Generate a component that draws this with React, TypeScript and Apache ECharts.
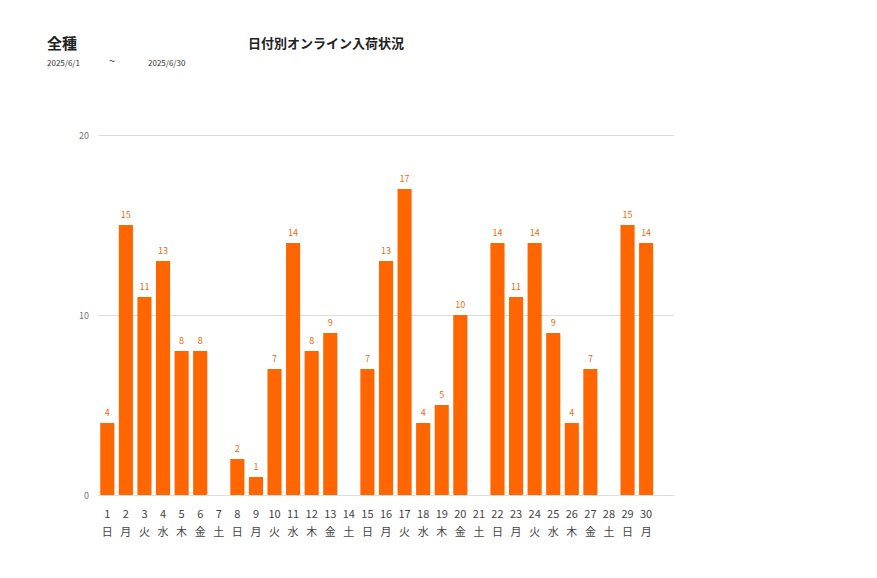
import React, { useEffect, useRef } from 'react';
import * as echarts from 'echarts';

// the axis holds 31 slots; the last one stays empty
const days = Array.from({ length: 30 }, (_, i) => String(i + 1));
const weekdays = ['日', '月', '火', '水', '木', '金', '土', '日', '月', '火', '水', '木', '金', '土', '日', '月', '火', '水', '木', '金', '土', '日', '月', '火', '水', '木', '金', '土', '日', '月'];
const counts = [4, 15, 11, 13, 8, 8, 0, 2, 1, 7, 14, 8, 9, 0, 7, 13, 17, 4, 5, 10, 0, 14, 11, 14, 9, 4, 7, 0, 15, 14];

const FONT = '"Noto Sans CJK JP", "Noto Sans", sans-serif';

const App: React.FC = () => {
  const chartRef = useRef<HTMLDivElement>(null);

  useEffect(() => {
    if (!chartRef.current) return;
    const chart = echarts.init(chartRef.current, null, { renderer: 'svg' });

    const small = { fontSize: 8, fontWeight: 'normal', color: '#333', fontFamily: FONT };
    const big = { fontSize: 13, fontWeight: 'bold', color: '#222', fontFamily: FONT };

    chart.setOption({
      animation: false,
      textStyle: { fontFamily: FONT },
      title: [
        { text: '全種', left: 39, top: 27, padding: 0, textStyle: { ...big, fontSize: 15 } },
        { text: '日付別オンライン入荷状況', left: 240, top: 28, padding: 0, textStyle: big },
        { text: '2025/6/1', left: 39, top: 50, padding: 0, textStyle: small },
        { text: '~', left: 101, top: 46, padding: 0, textStyle: { ...small, fontSize: 11 } },
        { text: '2025/6/30', left: 140, top: 50, padding: 0, textStyle: small },
      ],
      grid: { left: 90, right: 195, top: 127, bottom: 75, containLabel: false },
      xAxis: {
        type: 'category',
        data: [...days.map((d, i) => d + '\n' + weekdays[i]), ''],
        axisTick: { show: false },
        axisLine: { lineStyle: { color: '#ddd' } },
        axisLabel: {
          color: '#444',
          fontSize: 11,
          lineHeight: 18,
          margin: 9,
          interval: 0,
          fontFamily: FONT,
        },
      },
      yAxis: {
        type: 'value',
        min: 0,
        max: 20,
        interval: 10,
        axisLine: { show: false },
        axisTick: { show: false },
        splitLine: { lineStyle: { color: '#ddd' } },
        axisLabel: { color: '#777', fontSize: 9, margin: 9, fontFamily: FONT },
      },
      series: [
        {
          type: 'bar',
          data: counts,
          barWidth: '76%',
          itemStyle: { color: '#ff6600' },
          label: {
            show: true,
            position: 'top',
            color: '#ec6a10',
            fontSize: 9,
            distance: 6,
            fontFamily: FONT,
            formatter: (p: any) => (p.value ? String(p.value) : ''),
          },
        },
      ],
    });

    return () => {
      chart.dispose();
    };
  }, []);

  return <div ref={chartRef} style={{ width: '861px', height: '562px' }}></div>;
};

export default App;
